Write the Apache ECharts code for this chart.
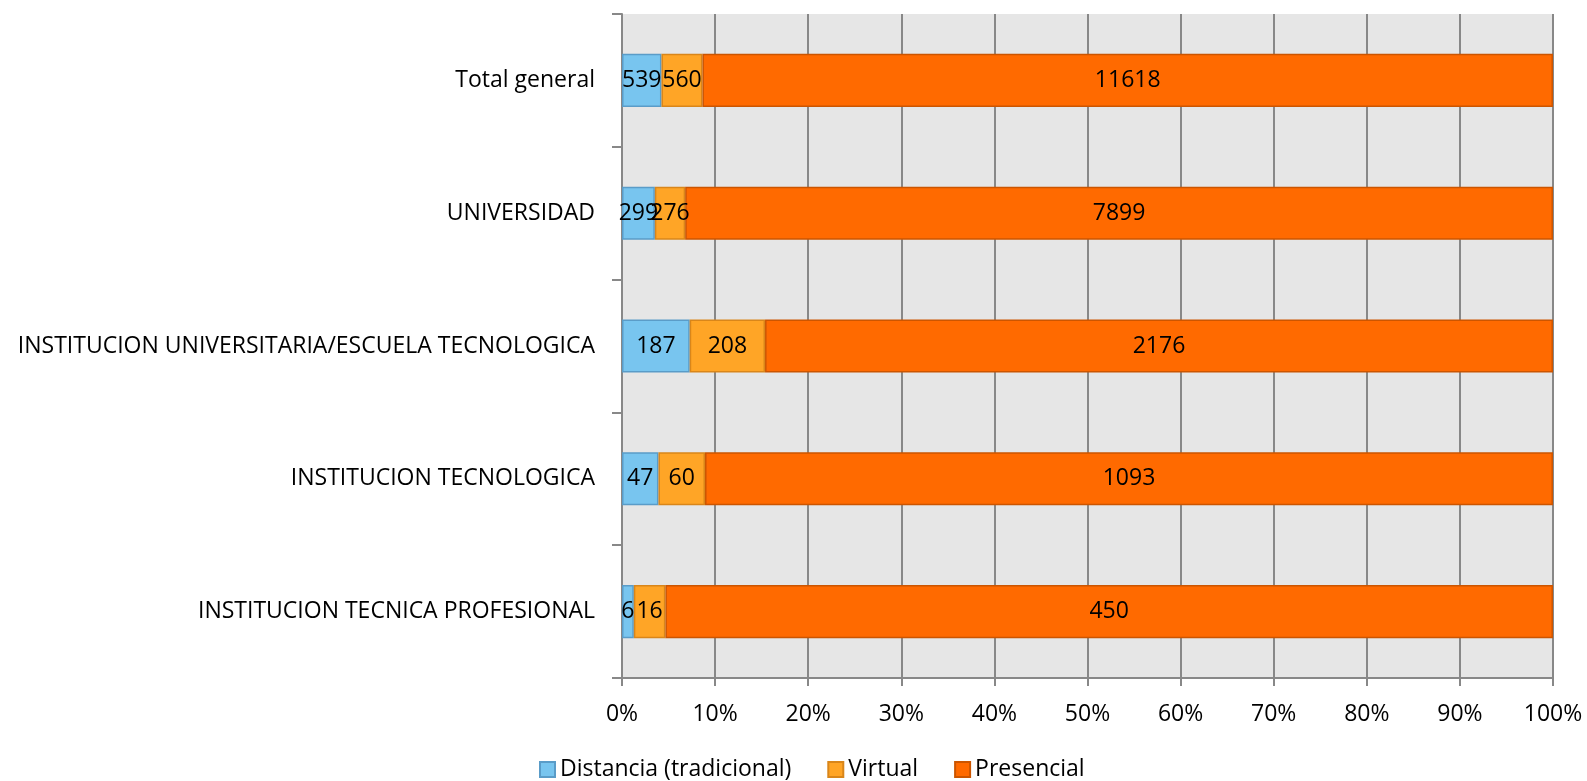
<!DOCTYPE html>
<html><head><meta charset="utf-8">
<script src="https://cdn.jsdelivr.net/npm/echarts@6/dist/echarts.min.js"></script>
<style>html,body{margin:0;padding:0;background:#fff}#c{width:1587px;height:781px}</style>
</head><body><div id="c"></div>
<script>
const categories = ['INSTITUCION TECNICA PROFESIONAL','INSTITUCION TECNOLOGICA','INSTITUCION UNIVERSITARIA/ESCUELA TECNOLOGICA','UNIVERSIDAD','Total general'];
const distancia = [6, 47, 187, 299, 539];
const virtual = [16, 60, 208, 276, 560];
const presencial = [450, 1093, 2176, 7899, 11618];
const xTicks = [0,10,20,30,40,50,60,70,80,90,100];

const totals = categories.map((c,i)=>distancia[i]+virtual[i]+presencial[i]);
const pct = arr => arr.map((v,i)=>v/totals[i]*100);
const FONT = 'Open Sans';
const FS = 23;
const chart = echarts.init(document.getElementById('c'));
function mk(name, raw, color, border){
  return {name, type:'bar', stack:'s', barWidth:'40%', data:pct(raw),
    itemStyle:{color, borderColor:border, borderWidth:1.5},
    label:{show:true, position:'inside', color:'#000', fontFamily:FONT, fontSize:FS,
      formatter:p=>raw[p.dataIndex]}};
}
chart.setOption({
  animation:false,
  textStyle:{fontFamily:FONT},
  grid:{left:622, right:34, top:14, bottom:103, backgroundColor:'#e6e6e6', show:true, borderWidth:0},
  legend:{bottom:-5, left:534, itemWidth:15, itemHeight:15, itemGap:36,
    textStyle:{fontFamily:FONT, fontSize:FS, color:'#000'},
    data:[{name:'Distancia (tradicional)', icon:'rect'},{name:'Virtual', icon:'rect'},{name:'Presencial', icon:'rect'}]},
  xAxis:{type:'value', min:0, max:100, interval:10,
    axisLine:{show:true, lineStyle:{color:'#888', width:2}},
    axisTick:{show:true, length:8, lineStyle:{color:'#888', width:2}},
    splitLine:{show:true, lineStyle:{color:'#888', width:2}},
    axisLabel:{margin:25, color:'#000', fontFamily:FONT, fontSize:FS, formatter:v=>v+'%'}},
  yAxis:{type:'category', data:categories,
    axisLine:{show:true, lineStyle:{color:'#888', width:2}},
    axisTick:{show:true, length:10, lineStyle:{color:'#888', width:2}},
    axisLabel:{margin:27, color:'#000', fontFamily:FONT, fontSize:FS}},
  series:[
    mk('Distancia (tradicional)', distancia, '#78c5ef', '#5a9cc8'),
    mk('Virtual', virtual, '#ffa526', '#d9861a'),
    mk('Presencial', presencial, '#ff6a00', '#cc5500')
  ]
});
</script></body></html>
